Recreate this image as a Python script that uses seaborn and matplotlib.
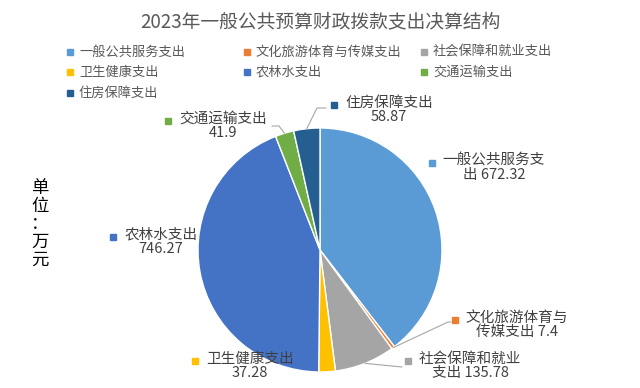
import matplotlib
matplotlib.use('Agg')
import matplotlib.pyplot as plt
from matplotlib.lines import Line2D
from matplotlib.patches import Rectangle
import numpy as np
import seaborn as sns

# Data
title = '2023年一般公共预算财政拨款支出决算结构'
unit = '单位：万元'
categories = ['一般公共服务支出', '文化旅游体育与传媒支出', '社会保障和就业支出',
              '卫生健康支出', '农林水支出', '交通运输支出', '住房保障支出']
values = [672.32, 7.4, 135.78, 37.28, 746.27, 41.9, 58.87]
colors = ['#5B9BD5', '#ED7D31', '#A5A5A5', '#FFC000', '#4472C4', '#70AD47', '#255E91']

# Style
sns.set_theme(style='white')
plt.rcParams['font.family'] = ['Noto Sans CJK SC', 'DejaVu Sans']
palette = sns.color_palette(colors)

W, H = 640, 388
fig = plt.figure(figsize=(6.4, 3.88), dpi=100)
fig.patch.set_facecolor('white')

# pie centre / radius in pixels
cx, cy, r = 320, 250, 122
ax = fig.add_axes([(cx - r) / W, (H - cy - r) / H, 2 * r / W, 2 * r / H])
wedges, _ = ax.pie(values, colors=palette, startangle=90, counterclock=False,
                   wedgeprops=dict(edgecolor='white', linewidth=1))
ax.set_xlim(-1, 1)
ax.set_ylim(-1, 1)
ax.set_aspect('equal')
ax.axis('off')


def px(x, y):
    # pixel -> pie data coords
    return (x - cx) / r, (cy - y) / r


def wrap(name, v):
    if len(name) > 7:
        return name[:7] + '\n' + name[7:] + ' ' + f'{v:g}'
    return name + '\n' + f'{v:g}'


# label centres (pixels)
label_pos = [(494, 168), (517, 325), (470, 366), (250, 366),
             (161, 242), (223, 126), (389, 110)]
# leader lines: elbow and end points (pixels); None = no line
leaders = [None, [(448, 322), (451, 322)], [(402, 367)], None,
           None, [(279, 126), (272, 126)], [(317, 108), (326, 108)]]

fig.canvas.draw()
renderer = fig.canvas.get_renderer()
for i, (name, v) in enumerate(zip(categories, values)):
    lx, ly = px(*label_pos[i])
    t = ax.text(lx, ly, wrap(name, v), ha='center', va='center', fontsize=10.5,
                color='#404040', linespacing=1.05, clip_on=False)
    bb = t.get_window_extent(renderer)
    # colored square before first line
    mx = bb.x0 - 11
    my = bb.y1 - 9
    fig.patches.append(Rectangle((mx / W - 3 / W, my / H - 3 / H), 6 / W, 6 / H,
                                 transform=fig.transFigure, color=palette[i]))
    if leaders[i] is not None:
        w = wedges[i]
        mid = np.deg2rad((w.theta1 + w.theta2) / 2)
        pts = [(np.cos(mid), np.sin(mid))] + [px(*p) for p in leaders[i]]
        xs, ys = zip(*pts)
        ax.add_line(Line2D(xs, ys, color='#A6A6A6', lw=0.8, clip_on=False))

# Title
fig.text(0.5, 1 - 22 / H, title, ha='center', va='center', fontsize=13.5, color='#595959')

# Legend (3 columns)
col_x = [70, 247, 424]
row_y = [52, 72, 93]
for i, name in enumerate(categories):
    x = col_x[i % 3]
    y = row_y[i // 3]
    fig.patches.append(Rectangle(((x - 3) / W, (H - y - 3) / H), 6 / W, 6 / H,
                                 transform=fig.transFigure, color=palette[i]))
    fig.text((x + 9) / W, 1 - y / H, name, ha='left', va='center',
             fontsize=9.5, color='#595959')

# Unit label (vertical)
fig.text(40 / W, 1 - 224 / H, '\n'.join(unit), ha='center', va='center',
         fontsize=12.5, color='black', linespacing=1.0)

fig.savefig('out.png', dpi=100, facecolor='white')
